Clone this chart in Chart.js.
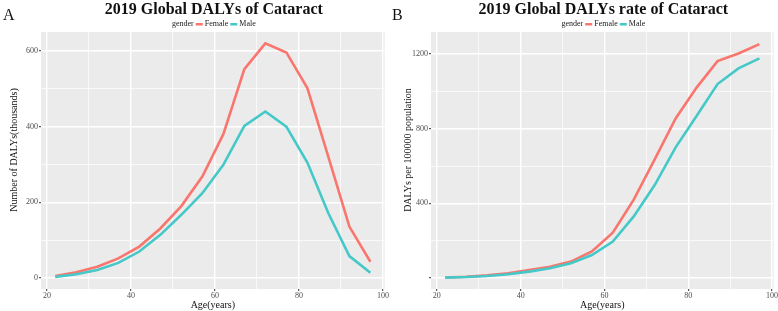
<!DOCTYPE html>
<html>
<head>
<meta charset="utf-8">
<script src="https://cdn.jsdelivr.net/npm/chart.js@4.4.0/dist/chart.umd.min.js"></script>
<style>
  body { margin: 0; background: #fff; }
  .box { position: absolute; top: 0; width: 389px; height: 311px; }
</style>
</head>
<body>
<div class="box" style="left:0"><canvas id="chartA"></canvas></div>
<div class="box" style="left:389px"><canvas id="chartB"></canvas></div>
<script>
// age group midpoints
const ages = [22, 27, 32, 37, 42, 47, 52, 57, 62, 67, 72, 77, 82, 87, 92, 97];
// panel A: number of DALYs (thousands)
const femaleCount = [5, 15, 30, 52, 83, 131, 190, 268, 380, 552, 620, 596, 502, 320, 136, 43];
const maleCount   = [3, 10, 21, 40, 70, 114, 167, 224, 299, 402, 440, 400, 305, 171, 58, 14];
// panel B: DALYs per 100000
const femaleRate = [3, 7, 14, 25, 42, 60, 88, 142, 243, 420, 635, 855, 1020, 1162, 1203, 1253];
const maleRate   = [2, 5, 11, 20, 34, 52, 79, 123, 195, 330, 498, 700, 868, 1039, 1123, 1177];
// gridline positions (major + minor) and labelled ticks
const ageGrid = [20, 30, 40, 50, 60, 70, 80, 90, 100];
const ageTicks = [20, 40, 60, 80, 100];
const countGrid = [0, 100, 200, 300, 400, 500, 600];
const countTicks = [0, 200, 400, 600];
const rateGrid = [0, 200, 400, 600, 800, 1000, 1200];
const rateMajor = [0, 400, 800, 1200];
const rateTicks = [400, 800, 1200];   // 0 gets a tick mark but no label
const genders = ['Female', 'Male'];

const FEMALE = '#F8766D';
const MALE = '#45C8C8';
const SERIF = '"Liberation Serif", "DejaVu Serif", serif';

Chart.defaults.font.family = SERIF;

const pairs = (xs, ys) => xs.map((x, i) => ({ x: x, y: ys[i] }));

// grey panel + title, letter, legend and y title drawn ggplot-style
const ggHeader = {
  id: 'ggHeader',
  beforeDraw(chart) {
    const a = chart.chartArea, c = chart.ctx;
    c.save();
    c.fillStyle = '#EBEBEB';
    c.fillRect(a.left, a.top, a.right - a.left, a.bottom - a.top);
    c.restore();
  },
  afterDraw(chart, args, o) {
    const a = chart.chartArea, c = chart.ctx;
    const cx = (a.left + a.right) / 2;
    c.save();
    c.fillStyle = '#111';
    c.textBaseline = 'alphabetic';
    c.font = 'bold 16px ' + SERIF;
    c.textAlign = 'center';
    c.fillText(o.title, cx + 1, 14);
    c.font = '16px ' + SERIF;
    c.textAlign = 'left';
    c.fillText(o.letter, 3, 20);

    // legend row
    c.font = '8px ' + SERIF;
    c.textBaseline = 'middle';
    const key = 7, gap = 2;
    const gW = c.measureText('gender').width;
    const ws = genders.map(g => c.measureText(g).width);
    let total = gW + gap;
    ws.forEach(w => { total += key + gap + w + gap; });
    let x = cx + 2 - total / 2;
    c.fillStyle = '#222';
    c.fillText('gender', x, 24);
    x += gW + gap;
    [FEMALE, MALE].forEach((col, i) => {
      c.fillStyle = col;
      c.fillRect(x, 23, key, 2.5);
      x += key + gap;
      c.fillStyle = '#222';
      c.fillText(genders[i], x, 24);
      x += ws[i] + gap;
    });

    // y axis title
    c.translate(o.yTitleX, 150);
    c.rotate(-Math.PI / 2);
    c.textAlign = 'center';
    c.font = '10px ' + SERIF;
    c.fillStyle = '#111';
    c.fillText(o.yTitle, 0, 0);
    c.restore();
  }
};

function makeChart(id, p) {
  const isMajorX = c => c.tick && ageTicks.includes(c.tick.value);
  const isMajorY = c => c.tick && p.yMajor.includes(c.tick.value);
  return new Chart(document.getElementById(id), {
    type: 'line',
    data: {
      datasets: [
        { label: 'Female', data: pairs(ages, p.female), borderColor: FEMALE, order: 1 },
        { label: 'Male', data: pairs(ages, p.male), borderColor: MALE, order: 0 }
      ]
    },
    options: {
      responsive: true,
      maintainAspectRatio: false,
      animation: false,
      layout: { padding: { top: 32, right: 2, left: 0, bottom: 0 } },
      elements: {
        line: { borderWidth: 2.6, tension: 0, fill: false },
        point: { radius: 0 }
      },
      plugins: {
        legend: { display: false },
        title: { display: false },
        tooltip: { enabled: false },
        ggHeader: { title: p.title, letter: p.letter, yTitle: p.yTitle, yTitleX: p.yTitleX }
      },
      scales: {
        x: {
          type: 'linear',
          min: 18.6,
          max: 100.4,
          border: { display: false },
          afterBuildTicks(s) { s.ticks = ageGrid.map(v => ({ value: v })); },
          afterFit(s) { s.height = 22; },
          ticks: {
            autoSkip: false,
            maxRotation: 0,
            padding: 0,
            color: '#4D4D4D',
            font: { size: 8 },
            callback: v => ageTicks.includes(v) ? String(v) : ''
          },
          grid: {
            color: '#FFFFFF',
            lineWidth: c => isMajorX(c) ? 1.4 : 0.7,
            tickColor: c => isMajorX(c) ? '#333' : 'rgba(0,0,0,0)',
            tickWidth: 1,
            tickLength: 2
          },
          title: {
            display: true,
            text: 'Age(years)',
            color: '#111',
            font: { size: 10 },
            padding: { top: 0, bottom: 0 }
          }
        },
        y: {
          min: p.yMin,
          max: p.yMax,
          border: { display: false },
          afterBuildTicks(s) { s.ticks = p.yGrid.map(v => ({ value: v })); },
          afterFit(s) { s.width = p.leftW; },
          ticks: {
            autoSkip: false,
            padding: 1,
            color: '#4D4D4D',
            font: { size: 8 },
            callback: v => p.yLabels.includes(v) ? String(v) : ''
          },
          grid: {
            color: '#FFFFFF',
            lineWidth: c => isMajorY(c) ? 1.4 : 0.7,
            tickColor: c => isMajorY(c) ? '#333' : 'rgba(0,0,0,0)',
            tickWidth: 1,
            tickLength: 2
          }
        }
      }
    },
    plugins: [ggHeader]
  });
}

makeChart('chartA', {
  letter: 'A',
  title: '2019 Global DALYs of Cataract',
  yTitle: 'Number of DALYs(thousands)',
  yTitleX: 14,
  female: femaleCount,
  male: maleCount,
  yMin: -29, yMax: 650,
  yGrid: countGrid, yMajor: countTicks, yLabels: countTicks,
  leftW: 41
});

makeChart('chartB', {
  letter: 'B',
  title: '2019 Global DALYs rate of Cataract',
  yTitle: 'DALYs per 100000 population',
  yTitleX: 19,
  female: femaleRate,
  male: maleRate,
  yMin: -59, yMax: 1318,
  yGrid: rateGrid, yMajor: rateMajor, yLabels: rateTicks,
  leftW: 42
});
</script>
</body>
</html>
